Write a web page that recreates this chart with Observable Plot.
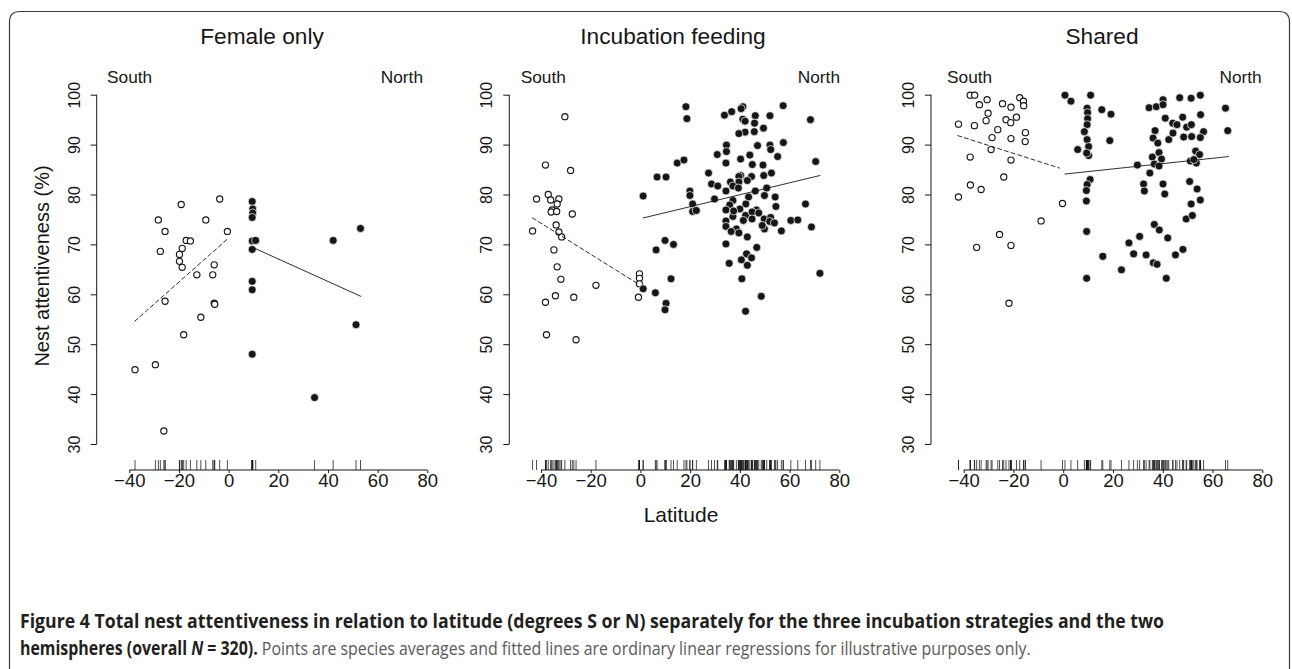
<!DOCTYPE html>
<html>
<head>
<meta charset="utf-8">
<script src="https://cdn.jsdelivr.net/npm/d3@7"></script>
<script src="https://cdn.jsdelivr.net/npm/@observablehq/plot@0.6"></script>
<style>
  html, body { margin: 0; padding: 0; background: #fff; }
  #page { position: relative; width: 1292px; height: 669px; overflow: hidden; background: #fff; }
  #page > svg, #page > .panel { position: absolute; top: 0; }
</style>
</head>
<body>
<div id="page"></div>
<script>
// ---------------- data (latitude, nest attentiveness %) ----------------
const panelTitles = ["Female only", "Incubation feeding", "Shared"];
const xTicks = [-40, -20, 0, 20, 40, 60, 80];
const yTicks = [30, 40, 50, 60, 70, 80, 90, 100];

// Female only
const p1South = [[-37.9,45.0],[-29.7,46.0],[-26.3,32.7],[-28.5,75.0],[-25.8,72.7],[-27.7,68.7],[-25.8,58.7],
  [-19.3,78.1],[-17.3,70.9],[-15.6,70.8],[-18.9,69.3],[-20.0,68.1],[-20.0,66.7],[-18.9,65.5],[-18.3,52.0],
  [-13.0,64.0],[-11.4,55.5],[-9.4,75.0],[-6.6,64.0],[-6.0,66.0],[-6.0,58.3],[-5.8,58.1],[-3.8,79.2],[-0.7,72.7]];
const p1North = [[9.3,78.7],[9.5,77.2],[9.5,76.4],[9.3,75.5],[9.3,70.8],[10.7,70.9],[9.3,69.1],[9.3,62.7],
  [9.3,61.0],[9.3,48.1],[34.4,39.4],[41.9,70.9],[52.9,73.3],[51.1,54.0]];
const p1SouthFit = [[-38.0,54.7],[-0.4,71.3]];
const p1NorthFit = [[9.5,69.5],[53.0,59.7]];

// Incubation feeding
const p2South = [[-30.6,95.7],[-38.4,86.0],[-28.3,84.9],[-37.3,80.1],[-42.0,79.2],[-33.0,79.2],[-36.3,79.0],
  [-33.7,78.2],[-35.7,77.0],[-36.1,76.6],[-33.9,76.7],[-27.6,76.2],[-43.6,72.8],[-34.1,74.0],[-33.0,72.6],
  [-31.9,71.6],[-35.0,69.0],[-33.7,65.6],[-32.2,63.1],[-34.4,59.8],[-38.4,58.5],[-27.0,59.5],[-18.1,61.9],
  [-38.0,52.0],[-26.1,51.0],[-0.6,64.2],[-0.6,63.3],[-0.6,62.2],[-1.0,59.5]];
const p2North = [[0.9,79.8],[0.9,61.2],[5.8,60.4],[6.1,69.0],[6.5,83.6],[10.1,83.6],[9.7,70.9],[13.1,70.1],
  [10.1,58.3],[9.7,57.0],[12.1,63.2],[14.6,86.4],[17.3,87.0],[18.1,97.7],[18.5,95.3],[19.7,80.8],[19.7,79.9],
  [20.8,78.2],[20.8,76.7],[22.3,76.9],[41.0,97.7],[40.3,97.3],[57.2,97.9],[33.6,96.0],[36.5,96.7],[41.0,95.2],
  [41.9,94.8],[46.0,95.9],[51.9,95.9],[68.2,95.1],[45.7,94.4],[41.9,92.6],[39.4,92.3],[45.6,92.7],[49.3,93.4],
  [34.4,90.0],[34.4,88.7],[30.7,88.1],[46.9,89.9],[51.9,90.0],[52.2,89.1],[57.3,90.5],[43.8,88.0],[40.1,87.2],
  [55.0,87.7],[34.2,86.4],[44.8,86.1],[49.1,86.0],[70.3,86.7],[27.2,84.4],[49.4,83.9],[52.5,84.4],[40.1,83.9],
  [39.4,83.7],[44.5,83.7],[36.0,82.6],[39.4,82.6],[42.8,82.9],[28.4,82.2],[30.9,81.8],[37.0,81.8],[39.2,81.4],
  [50.6,81.4],[46.0,80.8],[34.2,80.8],[49.7,79.9],[29.6,79.2],[43.3,79.6],[54.0,79.6],[37.0,78.9],[66.2,78.2],
  [35.7,78.0],[42.2,78.2],[54.3,77.7],[34.2,77.0],[39.8,77.2],[46.5,77.0],[37.0,75.7],[42.1,75.9],[44.7,76.6],
  [47.4,76.4],[49.6,75.2],[52.2,75.5],[51.8,74.7],[53.7,74.4],[34.2,74.8],[41.2,74.9],[44.7,75.2],[60.3,74.9],
  [63.1,75.0],[34.2,73.7],[38.4,73.2],[36.3,72.7],[39.4,72.4],[49.7,73.2],[56.5,72.8],[68.6,73.6],[48.8,73.9],
  [34.2,70.2],[42.8,71.6],[46.6,69.5],[42.5,68.2],[44.5,67.4],[40.4,67.0],[35.5,66.3],[42.8,65.9],[40.6,63.2],
  [72.0,64.3],[48.4,59.7],[42.1,56.7],[37.3,76.8]];
const p2SouthFit = [[-43.6,75.4],[-1.5,62.3]];
const p2NorthFit = [[0.9,75.4],[72.0,83.9]];

// Shared
const p3South = [[-37.6,100],[-35.8,100],[-30.8,99.1],[-33.9,98.1],[-30.4,96.4],[-24.6,98.3],[-21.2,97.6],
  [-17.7,99.5],[-16.2,98.8],[-16.1,97.9],[-19.0,95.6],[-23.2,95.1],[-21.3,94.5],[-31.2,94.9],[-35.9,93.9],
  [-42.3,94.2],[-26.5,93.1],[-15.4,92.5],[-28.8,91.5],[-21.2,91.3],[-15.5,90.7],[-29.2,89.1],[-37.6,87.6],
  [-21.2,87.0],[-24.1,83.6],[-37.5,82.0],[-33.2,81.1],[-42.3,79.6],[-0.5,78.3],[-9.1,74.8],[-25.8,72.1],
  [-21.2,69.9],[-35.0,69.5],[-22.0,58.3]];
const p3North = [[0.5,100],[2.9,98.8],[10.8,100],[9.4,97.4],[9.6,96.5],[9.6,95.3],[9.4,94.1],[8.3,92.7],
  [9.4,91.1],[10.0,89.7],[5.6,89.1],[10.0,87.9],[9.2,88.4],[10.6,83.1],[9.4,82.1],[9.1,80.9],[9.1,78.8],
  [9.2,72.7],[9.2,63.3],[15.3,97.1],[19.0,96.2],[18.5,90.9],[15.7,67.7],[23.2,65.0],[26.2,70.4],[28.1,68.2],
  [30.5,71.7],[33.1,68.0],[29.6,86.0],[32.1,82.2],[32.4,80.8],[34.6,84.4],[34.3,97.5],[37.2,97.7],[39.9,99.1],
  [39.9,98.1],[46.6,99.5],[51.2,99.4],[54.9,100],[65.0,97.4],[65.9,92.9],[40.8,95.4],[43.8,94.4],[45.5,94.1],
  [47.8,95.6],[49.4,93.6],[51.3,94.1],[55.0,96.1],[56.2,92.7],[36.7,92.9],[35.9,91.4],[37.8,90.4],[42.2,91.1],
  [43.9,92.4],[48.2,91.6],[51.4,91.7],[54.9,91.5],[38.3,88.5],[35.6,87.6],[39.3,87.2],[36.4,86.2],[38.3,85.8],
  [53.0,88.8],[54.6,88.1],[50.9,86.8],[53.3,86.4],[52.3,87.1],[39.9,82.2],[40.6,80.2],[50.6,82.7],[53.6,81.2],
  [54.9,79.0],[51.2,78.2],[49.2,75.2],[51.7,75.9],[36.4,74.1],[38.4,73.0],[41.8,71.4],[47.9,69.1],[44.9,68.0],
  [36.0,66.4],[37.5,66.1],[41.2,63.3]];
const p3SouthFit = [[-42.6,91.9],[-1.7,85.4]];
const p3NorthFit = [[0.5,84.2],[66.2,87.7]];

// ---------------- rendering ----------------
const FONT = "'Liberation Sans', Arial, Helvetica, sans-serif";
const NARROW = "'Liberation Sans Narrow', 'Liberation Sans', Arial, sans-serif";
const INK = "#161616";
const page = document.getElementById("page");

const layout = [
  {left: 0,   width: 440, axisX: 96.7,  x0: 129.3, x1: 427.3},
  {left: 440, width: 420, axisX: 509.3, x0: 541.0, x1: 839.3},
  {left: 860, width: 432, axisX: 931.0, x0: 963.7, x1: 1262.3}
];
const panels = [
  {south: p1South, north: p1North, sFit: p1SouthFit, nFit: p1NorthFit},
  {south: p2South, north: p2North, sFit: p2SouthFit, nFit: p2NorthFit},
  {south: p3South, north: p3North, sFit: p3SouthFit, nFit: p3NorthFit}
];
const H = 540, AXIS_Y = 470;

panels.forEach((p, i) => {
  const L = layout[i];
  const axisLines = (index, scales, values, dims) => {
    const g = d3.create("svg:g").attr("stroke", INK).attr("stroke-width", 1).attr("fill", "none");
    const yb = dims.height - dims.marginBottom;
    g.append("line").attr("x1", scales.x(xTicks[0])).attr("x2", scales.x(xTicks[xTicks.length - 1]))
      .attr("y1", yb).attr("y2", yb);
    g.append("line").attr("x1", dims.marginLeft).attr("x2", dims.marginLeft)
      .attr("y1", scales.y(yTicks[0])).attr("y2", scales.y(yTicks[yTicks.length - 1]));
    return g.node();
  };
  const chart = Plot.plot({
    width: L.width, height: H,
    marginLeft: L.axisX - L.left, marginRight: 0, marginTop: 0, marginBottom: H - AXIS_Y,
    x: {domain: [-40, 80], range: [L.x0 - L.left, L.x1 - L.left]},
    y: {domain: [30, 100], range: [444, 94.7]},
    style: {fontFamily: FONT, color: INK, background: "none", overflow: "visible"},
    marks: [
      axisLines,
      Plot.axisY({ticks: yTicks, anchor: "left", tickSize: 6, tickFormat: () => "", label: null, stroke: INK}),
      Plot.text(yTicks, {y: d => d, text: d => String(d), frameAnchor: "left", dx: -17.4, rotate: -90,
        textAnchor: "middle", lineAnchor: "bottom", fontSize: 16, fontFamily: NARROW, fill: INK}),
      Plot.axisX({ticks: xTicks, anchor: "bottom", tickSize: 3, tickPadding: 0, fontSize: 18.5, label: null, stroke: INK, fill: INK}),
      Plot.ruleX([...p.south, ...p.north], {x: d => d[0], insetTop: AXIS_Y - 10, stroke: INK, strokeWidth: 0.75}),
      Plot.dot(p.south, {x: d => d[0], y: d => d[1], r: 3.1, fill: "white", stroke: INK, strokeWidth: 1.15}),
      Plot.dot(p.north, {x: d => d[0], y: d => d[1], r: 4.0, fill: INK, stroke: "white", strokeWidth: 0.7}),
      Plot.line(p.sFit, {x: d => d[0], y: d => d[1], stroke: INK, strokeWidth: 0.9, strokeDasharray: "4,3"}),
      Plot.line(p.nFit, {x: d => d[0], y: d => d[1], stroke: INK, strokeWidth: 0.9})
    ]
  });
  chart.classList.add("panel");
  chart.style.left = L.left + "px";
  page.appendChild(chart);
});

// ---------------- text overlay and frame ----------------
const ov = d3.select(page).insert("svg", ":first-child")
  .attr("width", 1292).attr("height", 669).style("left", "0px");
ov.append("path")
  .attr("d", "M9.5,669 V22 Q9.5,11.5 20,11.5 H1279 Q1289.5,11.5 1289.5,22 V669")
  .attr("fill", "none").attr("stroke", "#3a3a3a").attr("stroke-width", 1.2);

const titleX = [262, 673, 1102];
const southX = [107, 520.7, 947];
const northX = [423, 840, 1261.7];
panelTitles.forEach((t, i) => {
  ov.append("text").attr("x", titleX[i]).attr("y", 44).attr("text-anchor", "middle")
    .attr("font-family", FONT).attr("font-size", 22.7).attr("fill", INK).text(t);
  ov.append("text").attr("x", southX[i]).attr("y", 82.7).attr("text-anchor", "start")
    .attr("font-family", FONT).attr("font-size", 17.3).attr("fill", INK).text("South");
  ov.append("text").attr("x", northX[i]).attr("y", 82.7).attr("text-anchor", "end")
    .attr("font-family", FONT).attr("font-size", 17.3).attr("fill", INK).text("North");
});
ov.append("text").attr("transform", "translate(49,266) rotate(-90)").attr("text-anchor", "middle")
  .attr("font-family", FONT).attr("font-size", 20).attr("fill", INK).text("Nest attentiveness (%)");
ov.append("text").attr("x", 681).attr("y", 521.5).attr("text-anchor", "middle")
  .attr("font-family", FONT).attr("font-size", 21).attr("fill", INK).text("Latitude");

// caption: condensed horizontally to the reference widths
const CAP = "'Liberation Sans Narrow', 'Open Sans', 'DejaVu Sans', sans-serif";
function fitLine(textSel, x, y, targetW) {
  const w = textSel.node().getComputedTextLength();
  const sx = w > 0 ? targetW / w : 1;
  textSel.attr("transform", `translate(${x},${y}) scale(${sx},1)`);
}
const l1 = ov.append("text").attr("font-family", CAP).attr("font-size", 19)
  .attr("font-weight", "bold").attr("fill", "#231f20")
  .text("Figure 4 Total nest attentiveness in relation to latitude (degrees S or N) separately for the three incubation strategies and the two");
fitLine(l1, 20, 628, 1145);
const l2 = ov.append("text").attr("font-family", CAP).attr("font-size", 19).attr("fill", "#231f20");
l2.append("tspan").attr("font-weight", "bold").text("hemispheres (overall ");
l2.append("tspan").attr("font-weight", "bold").attr("font-style", "italic").text("N");
l2.append("tspan").attr("font-weight", "bold").text(" = 320).");
l2.append("tspan").attr("fill", "#5a5a5a").text(" Points are species averages and fitted lines are ordinary linear regressions for illustrative purposes only.");
fitLine(l2, 20, 655, 1011);
</script>
</body>
</html>
